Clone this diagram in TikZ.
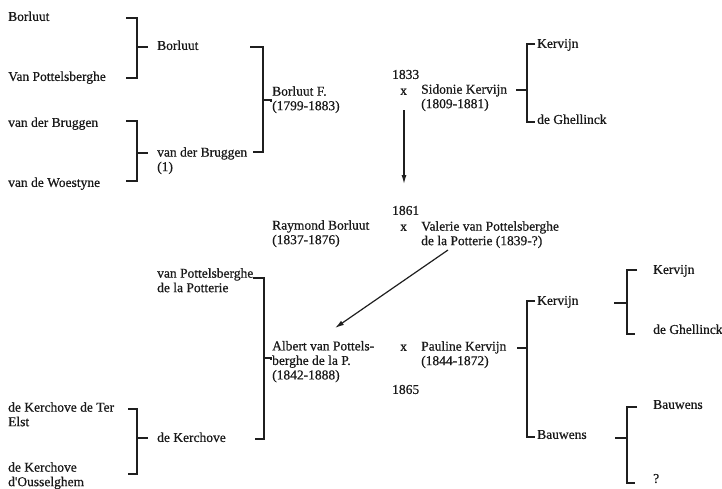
\documentclass[tikz,border=0pt]{standalone}
\usepackage{fontspec}
\setmainfont{Liberation Serif}[FakeBold=0.6]
\usetikzlibrary{arrows.meta}
\begin{document}
\begin{tikzpicture}[x=1pt,y=-1pt,
  lbl/.style={anchor=west,inner sep=0pt,align=left,font=\fontsize{13.5}{14.5}\selectfont,text=black!90},
  brk/.style={line width=1.6pt,line cap=butt,line join=miter,black!88},
  arr/.style={line width=1.2pt,black!88,-{Latex[length=9pt,width=5pt]}}]
\useasboundingbox (0,0) rectangle (722,488);
% ---------- left column
\node[lbl] (pA) at (8,18) {Borluut\strut};
\node[lbl] (pB) at (8,78) {Van Pottelsberghe\strut};
\node[lbl] (pC) at (8,124) {van der Bruggen\strut};
\node[lbl] (pD) at (8,184) {van de Woestyne\strut};
\node[lbl] (pE) at (8,416) {de Kerchove de Ter\strut\\Elst\strut};
\node[lbl] (pF) at (8,476) {de Kerchove\strut\\d\textquotesingle Ousselghem\strut};
% ---------- second column
\node[lbl] (gA) at (157,47) {Borluut\strut};
\node[lbl] (gB) at (157,161) {van der Bruggen\strut\\(1)\strut};
\node[lbl] (gC) at (157,282) {van Pottelsberghe\strut\\de la Potterie\strut};
\node[lbl] (gD) at (157,439) {de Kerchove\strut};
% ---------- third column
\node[lbl] (bF) at (272,100) {Borluut F.\strut\\(1799-1883)\strut};
\node[lbl] (rB) at (272,234) {Raymond Borluut\strut\\(1837-1876)\strut};
\node[lbl] (aV) at (272,362) {Albert van Pottels-\strut\\berghe de la P.\strut\\(1842-1888)\strut};
% ---------- marriages
\node[lbl] (y1833) at (392,76) {1833\strut};
\node[lbl] (x1833) at (400,92) {x\strut};
\node[lbl] (sK) at (421,98) {Sidonie Kervijn\strut\\(1809-1881)\strut};
\node[lbl] (y1861) at (392,212) {1861\strut};
\node[lbl] (x1861) at (400,228) {x\strut};
\node[lbl] (vV) at (421,235) {Valerie van Pottelsberghe\strut\\de la Potterie (1839-?)\strut};
\node[lbl] (x1865) at (400,348) {x\strut};
\node[lbl] (pK) at (421,355) {Pauline Kervijn\strut\\(1844-1872)\strut};
\node[lbl] (y1865) at (392,391) {1865\strut};
% ---------- right columns
\node[lbl] (kA) at (537,45) {Kervijn\strut};
\node[lbl] (kB) at (537,121) {de Ghellinck\strut};
\node[lbl] (kC) at (537,302) {Kervijn\strut};
\node[lbl] (kD) at (537,436) {Bauwens\strut};
\node[lbl] (kE) at (653,271) {Kervijn\strut};
\node[lbl] (kF) at (653,331) {de Ghellinck\strut};
\node[lbl] (kG) at (653,406) {Bauwens\strut};
\node[lbl] (kH) at (653,480) {?\strut};
% ---------- bracket coordinates
\coordinate (b1a) at (126,18);  \coordinate (b1b) at (126,78);  \coordinate (b1m) at (137,47);
\coordinate (b2a) at (126,121); \coordinate (b2b) at (126,181); \coordinate (b2m) at (137,153);
\coordinate (b3a) at (250,47);  \coordinate (b3b) at (253,152); \coordinate (b3m) at (263,100);
\coordinate (b4a) at (128,409); \coordinate (b4b) at (128,474); \coordinate (b4m) at (137,438);
\coordinate (b5a) at (253,278); \coordinate (b5b) at (255,439); \coordinate (b5m) at (264,358);
\coordinate (r1a) at (535,44);  \coordinate (r1b) at (535,122); \coordinate (r1m) at (527,90);
\coordinate (r2a) at (535,301); \coordinate (r2b) at (535,437); \coordinate (r2m) at (527,348);
\coordinate (r3a) at (637,270); \coordinate (r3b) at (635,334); \coordinate (r3m) at (627,303);
\coordinate (r4a) at (637,407); \coordinate (r4b) at (635,483); \coordinate (r4m) at (627,438);
% ---------- brackets (parents on the left)
\draw[brk] (b1a) -- (137,18) -- (137,78) -- (b1b);
\draw[brk] (b1m) -- (148,47);
\draw[brk] (b2a) -- (137,121) -- (137,181) -- (b2b);
\draw[brk] (b2m) -- (148,153);
\draw[brk] (b3a) -- (263,47) -- (263,152) -- (b3b);
\draw[brk] (b3m) -- (271,100) -- (271,102);
\draw[brk] (b4a) -- (137,409) -- (137,474) -- (b4b);
\draw[brk] (b4m) -- (148,438);
\draw[brk] (b5a) -- (264,278) -- (264,439) -- (b5b);
\draw[brk] (b5m) -- (271,358) -- (271,360);
% ---------- brackets (parents on the right)
\draw[brk] (516,90) -- (r1m);
\draw[brk] (r1a) -- (527,44) -- (527,122) -- (r1b);
\draw[brk] (517,348) -- (r2m);
\draw[brk] (r2a) -- (527,301) -- (527,437) -- (r2b);
\draw[brk] (614,303) -- (r3m);
\draw[brk] (r3a) -- (627,270) -- (627,334) -- (r3b);
\draw[brk] (615,438) -- (r4m);
\draw[brk] (r4a) -- (627,407) -- (627,483) -- (r4b);
% ---------- descent arrows
\coordinate (d1a) at (404,110);
\coordinate (d1b) at (404,184);
\coordinate (d2a) at (448,250);
\coordinate (d2b) at (335,328);
\draw[arr] (d1a) -- (d1b);
\draw[arr] (d2a) -- (d2b);
\end{tikzpicture}
\end{document}
